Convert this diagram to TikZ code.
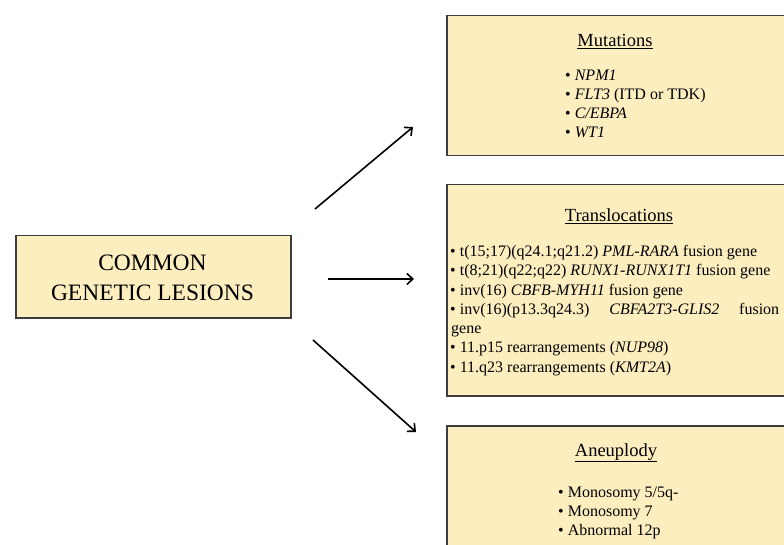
\documentclass[tikz,border=0pt]{standalone}
\usepackage{fontspec}
\setmainfont{Liberation Serif}
\usetikzlibrary{arrows.meta}
\definecolor{boxfill}{RGB}{253,238,192}
\definecolor{boxline}{RGB}{60,60,60}
\tikzset{
  panel/.style={draw=boxline, line width=1.5pt, fill=boxfill, rectangle, inner sep=0pt, anchor=north west},
  titletext/.style={anchor=base, inner sep=0pt, font=\fontsize{18.5}{22}\selectfont},
  itemtext/.style={anchor=base west, inner sep=0pt, font=\fontsize{16}{19}\selectfont},
  maintext/.style={anchor=base, inner sep=0pt, font=\fontsize{23.5}{29}\selectfont},
  arrowline/.style={line width=1.6pt, -{Straight Barb[length=6pt,width=11pt,line width=1.6pt]}}
}
\begin{document}
\begin{tikzpicture}[x=1pt,y=-1pt]
\useasboundingbox (0,0) rectangle (784,545);
\clip (0,0) rectangle (784,545);
% boxes
\node[panel, minimum width=275pt, minimum height=82pt] (main) at (15,235) {};
\node[panel, minimum width=350pt, minimum height=140pt] (mut) at (446,15) {};
\node[panel, minimum width=350pt, minimum height=211pt] (trans) at (446,184) {};
\node[panel, minimum width=350pt, minimum height=140pt] (aneu) at (446,425) {};
% main text
\node[maintext] (mainA) at (152.5,271) {COMMON};
\node[maintext] (mainB) at (152.5,300) {GENETIC LESIONS};
% mutations
\node[titletext] (mutT) at (615,47) {\underline{Mutations}};
\node[itemtext] (m1) at (565,81) {• \textit{NPM1}};
\node[itemtext] (m2) at (565,100) {• \textit{FLT3} (ITD or TDK)};
\node[itemtext] (m3) at (565,119) {• \textit{C/EBPA}};
\node[itemtext] (m4) at (565,138) {• \textit{WT1}};
% translocations
\node[titletext] (transT) at (619,222) {\underline{Translocations}};
\node[itemtext] (t1) at (450,257) {• t(15;17)(q24.1;q21.2) \textit{PML-RARA} fusion gene};
\node[itemtext] (t2) at (450,276) {• t(8;21)(q22;q22) \textit{RUNX1-RUNX1T1} fusion gene};
\node[itemtext] (t3) at (450,295) {• inv(16) \textit{CBFB-MYH11} fusion gene};
\node[itemtext] (t4) at (450,314) {\makebox[329pt][s]{•\kern4pt inv(16)(p13.3q24.3) \textit{CBFA2T3-GLIS2} fusion}};
\node[itemtext] (t4b) at (451,333) {gene};
\node[itemtext] (t5) at (450,352) {• 11.p15 rearrangements (\textit{NUP98})};
\node[itemtext] (t6) at (450,372) {• 11.q23 rearrangements (\textit{KMT2A})};
% aneuploidy
\node[titletext] (aneuT) at (616,456) {\underline{Aneuplody}};
\node[itemtext] (a1) at (558,497) {• Monosomy 5/5q-};
\node[itemtext] (a2) at (558,516) {• Monosomy 7};
\node[itemtext] (a3) at (558,535) {• Abnormal 12p};
% arrows
\coordinate (u0) at (315,209);
\coordinate (u1) at (413,127);
\coordinate (c0) at (328,279);
\coordinate (c1) at (414,279);
\coordinate (d0) at (313,340);
\coordinate (d1) at (416,432);
\draw[arrowline] (u0) -- (u1);
\draw[arrowline] (c0) -- (c1);
\draw[arrowline] (d0) -- (d1);
\end{tikzpicture}
\end{document}
